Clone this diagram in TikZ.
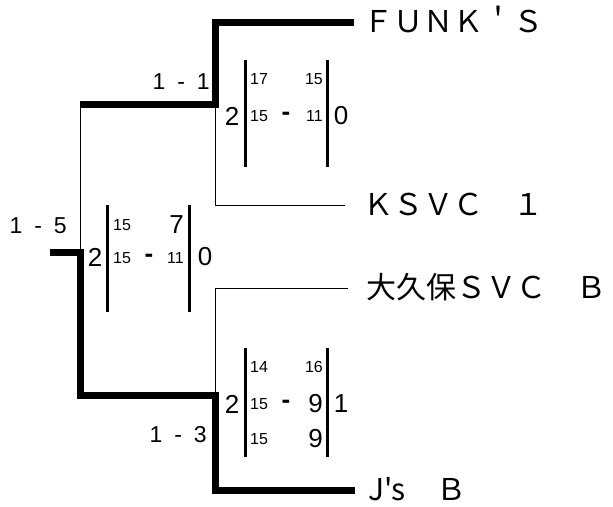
\documentclass[tikz,border=0pt]{standalone}
\usepackage{fontspec}
\setmainfont{Liberation Sans}
\newfontfamily\jpfont[Ligatures=TeXOff]{Noto Sans CJK JP}
\tikzset{
  win/.style={line width=7pt},
  lose/.style={line width=1pt},
  bar/.style={line width=3pt},
  team/.style={anchor=base west,inner sep=0pt,font=\jpfont\fontsize{30}{30}\selectfont},
  lbl/.style={anchor=east,inner sep=0pt,font=\fontsize{23}{23}\selectfont},
  big/.style={inner sep=0pt,font=\fontsize{26}{26}\selectfont},
  minus/.style={inner sep=0pt,font=\bfseries\fontsize{26}{26}\selectfont},
  small/.style={inner sep=0pt,font=\fontsize{16}{16}\selectfont},
}
\begin{document}
\begin{tikzpicture}[x=1pt,y=-1pt]
\useasboundingbox (0,0) rectangle (613,506);
% teams
\node[team] (funks) at (363,32) {ＦＵＮＫ＇Ｓ};
\node[team] (ksvc) at (363,215) {ＫＳＶＣ　１};
\node[team] (okubo) at (366,298) {大久保ＳＶＣ　Ｂ};
\node[team] (js) at (368,500) {J's　Ｂ};
\coordinate (m1) at (215,104);
\coordinate (m2) at (215,395);
\coordinate (f1) at (80,104);
\coordinate (f2) at (80,395);
\coordinate (f) at (80,252);
\coordinate (champ) at (50,252);
% bracket
\draw[lose] ([shift={(-18pt,10pt)}]ksvc.base west) -| (m1);
\draw[lose] ([shift={(-18pt,10pt)}]okubo.base west) -| (m2);
\draw[lose] (f1) -- (f);
\draw[win] ([shift={(-9pt,10pt)}]funks.base west) -| (m1) -- (f1);
\draw[win] ([shift={(-13pt,10pt)}]js.base west) -| (m2) -- (f2) -- (f) -- (champ);
% set scores
\node[lbl] (s11) at (210,82) {1\hspace{12pt}-\hspace{12pt}1};
\node[lbl] (s15) at (67,226) {1\hspace{12pt}-\hspace{12pt}5};
\node[lbl] (s13) at (207,435) {1\hspace{12pt}-\hspace{12pt}3};
\foreach \x/\a/\b in {245/60/167,327/60/167,107/205/312,189/205/312,245/348/457,327/348/457}
{
  \draw[bar] (\x,\a) -- (\x,\b);
}
% top match
\node[big] (t2) at (232,116) {2};
\node[big] (t0) at (341,116) {0};
\node[small,anchor=west] (ta1) at (250,79) {17};
\node[small,anchor=east] (tb1) at (323,79) {15};
\node[small,anchor=west] (ta2) at (250,116) {15};
\node[minus] (td) at (286,116) {-};
\node[small,anchor=east] (tb2) at (323,116) {11};
% final
\node[big] (f2n) at (95,257) {2};
\node[big] (f0n) at (205,257) {0};
\node[small,anchor=west] (fa1) at (113,225) {15};
\node[big,anchor=east] (fb1) at (184,225) {7};
\node[small,anchor=west] (fa2) at (113,258) {15};
\node[minus] (fd) at (149,258) {-};
\node[small,anchor=east] (fb2) at (184,258) {11};
% bottom match
\node[big] (b2) at (232,404) {2};
\node[big] (b1) at (341,404) {1};
\node[small,anchor=west] (ba1) at (250,367) {14};
\node[small,anchor=east] (bb1) at (323,367) {16};
\node[small,anchor=west] (ba2) at (250,404) {15};
\node[minus] (bd) at (286,404) {-};
\node[big,anchor=east] (bb2) at (323,404) {9};
\node[small,anchor=west] (ba3) at (250,439) {15};
\node[big,anchor=east] (bb3) at (323,439) {9};
\end{tikzpicture}
\end{document}
